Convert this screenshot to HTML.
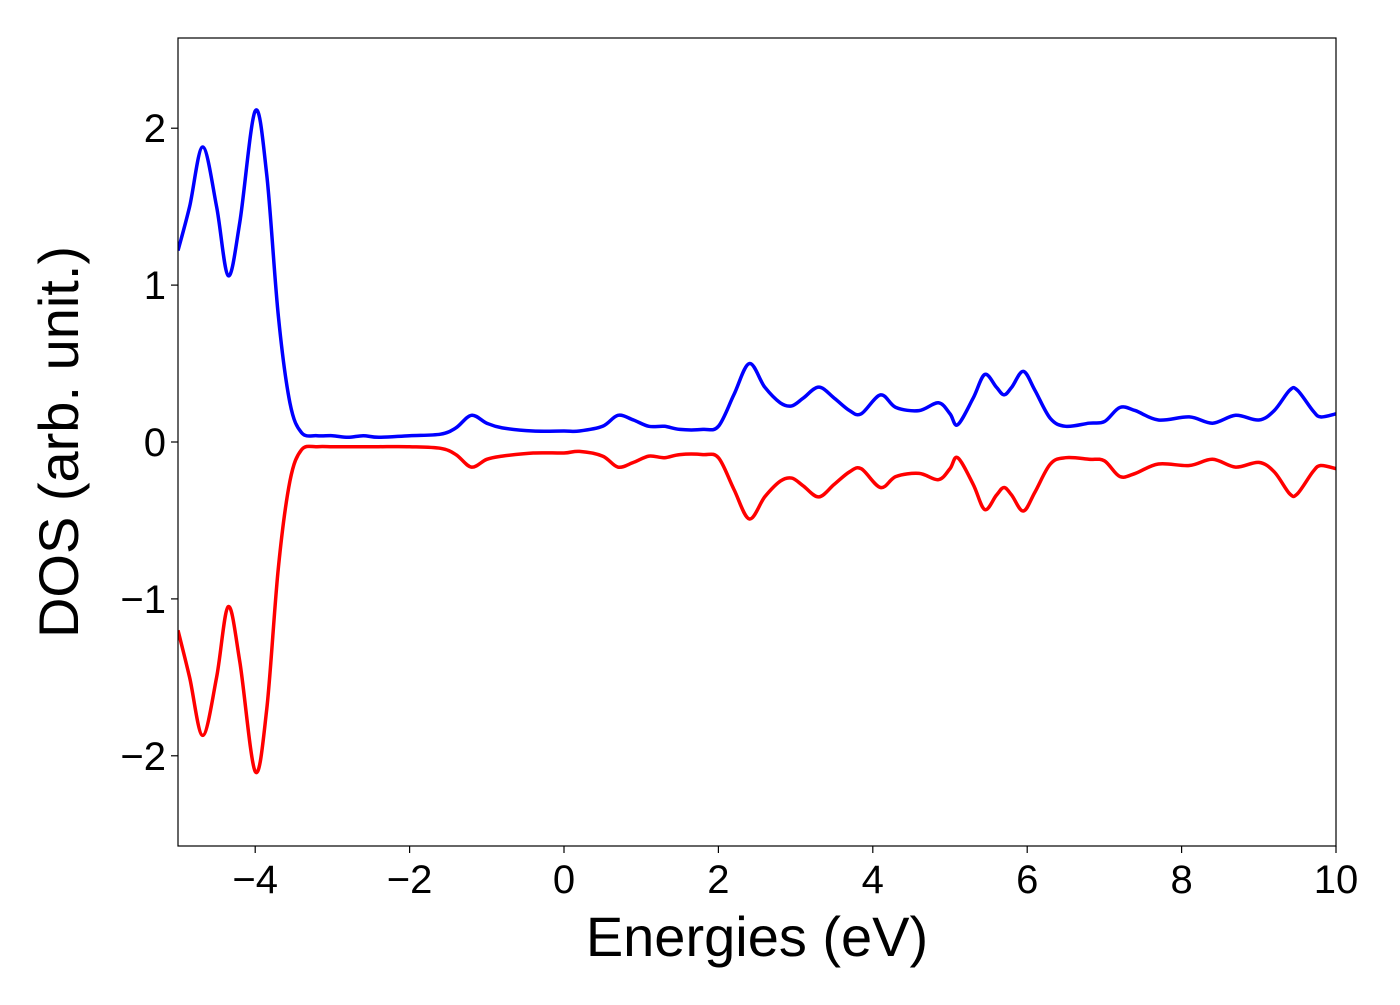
<!DOCTYPE html>
<html><head><meta charset="utf-8"><style>
html,body{margin:0;padding:0;background:#fff;}
svg text{font-family:"Liberation Sans","DejaVu Sans",sans-serif;}
</style></head><body>
<svg id="chart" width="1400" height="1000" xmlns="http://www.w3.org/2000/svg">
<rect x="0" y="0" width="1400" height="1000" fill="#fff"/>
<g id="plot"></g>
<rect x="178" y="38" width="1158" height="808" fill="none" stroke="#000" stroke-width="1.2"/>
<g id="xticks"></g>
<g id="yticks"></g>
<text x="757" y="956" font-size="56" text-anchor="middle">Energies (eV)</text>
<text transform="translate(78,442) rotate(-90)" font-size="56" text-anchor="middle">DOS (arb. unit.)</text>
</svg>
<script>
const energies = [-5,-4.85,-4.68,-4.5,-4.35,-4.2,-4.0,-3.85,-3.7,-3.55,-3.4,-3.2,-3,-2.8,-2.6,-2.4,-2,-1.6,-1.4,-1.2,-1.0,-0.8,-0.4,0,0.2,0.5,0.7,0.9,1.1,1.3,1.5,1.8,2.0,2.2,2.4,2.6,2.8,2.95,3.1,3.3,3.5,3.7,3.85,4.1,4.3,4.6,4.85,5.0,5.1,5.3,5.45,5.6,5.7,5.8,5.95,6.1,6.3,6.5,6.8,7.0,7.2,7.4,7.7,8.1,8.4,8.7,9.0,9.2,9.4,9.5,9.7,9.8,10];
const dosUp = [1.22,1.5,1.88,1.5,1.06,1.4,2.11,1.7,0.8,0.25,0.06,0.04,0.04,0.03,0.04,0.03,0.04,0.05,0.09,0.17,0.12,0.09,0.07,0.07,0.07,0.1,0.17,0.14,0.1,0.1,0.08,0.08,0.1,0.3,0.5,0.35,0.25,0.23,0.28,0.35,0.28,0.2,0.18,0.3,0.22,0.2,0.25,0.18,0.11,0.28,0.43,0.35,0.3,0.35,0.45,0.33,0.15,0.1,0.12,0.13,0.22,0.2,0.14,0.16,0.12,0.17,0.14,0.2,0.33,0.33,0.2,0.16,0.18];
const dosDown = [-1.2,-1.5,-1.87,-1.5,-1.05,-1.4,-2.1,-1.7,-0.8,-0.25,-0.05,-0.03,-0.03,-0.03,-0.03,-0.03,-0.03,-0.04,-0.08,-0.16,-0.11,-0.09,-0.07,-0.07,-0.06,-0.09,-0.16,-0.13,-0.09,-0.1,-0.08,-0.08,-0.1,-0.3,-0.49,-0.35,-0.25,-0.23,-0.28,-0.35,-0.27,-0.19,-0.17,-0.29,-0.22,-0.2,-0.24,-0.17,-0.1,-0.27,-0.43,-0.34,-0.29,-0.34,-0.44,-0.32,-0.14,-0.1,-0.11,-0.12,-0.22,-0.2,-0.14,-0.15,-0.11,-0.16,-0.13,-0.19,-0.33,-0.33,-0.19,-0.15,-0.17];
const xTicks = [-4,-2,0,2,4,6,8,10];
const yTicks = [-2,-1,0,1,2];

const X0=178,X1=1336,Y0=38,Y1=846, XMIN=-5,XMAX=10,YMIN=-2.575,YMAX=2.575;
function sx(v){return X0+(v-XMIN)/(XMAX-XMIN)*(X1-X0);}
function sy(v){return Y1-(v-YMIN)/(YMAX-YMIN)*(Y1-Y0);}
const NS="http://www.w3.org/2000/svg";
function fmt(v){return v<0?"\u2212"+Math.abs(v):String(v);}
function smoothPath(xs,ys){
  const p=xs.map((x,i)=>[sx(x),sy(ys[i])]);
  let d="M"+p[0][0].toFixed(1)+","+p[0][1].toFixed(1);
  for(let i=0;i<p.length-1;i++){
    const a=p[Math.max(0,i-1)],b=p[i],c=p[i+1],e=p[Math.min(p.length-1,i+2)];
    const c1=[b[0]+(c[0]-a[0])/6,b[1]+(c[1]-a[1])/6];
    const c2=[c[0]-(e[0]-b[0])/6,c[1]-(e[1]-b[1])/6];
    d+="C"+c1[0].toFixed(1)+","+c1[1].toFixed(1)+" "+c2[0].toFixed(1)+","+c2[1].toFixed(1)+" "+c[0].toFixed(1)+","+c[1].toFixed(1);
  }
  return d;
}
const plot=document.getElementById("plot");
const clip=document.createElementNS(NS,"clipPath");clip.setAttribute("id","clp");
const cr=document.createElementNS(NS,"rect");cr.setAttribute("x",X0);cr.setAttribute("y",Y0);cr.setAttribute("width",X1-X0);cr.setAttribute("height",Y1-Y0);
clip.appendChild(cr);plot.appendChild(clip);
[[dosUp,"#0000ff","spin-up-line"],[dosDown,"#ff0000","spin-down-line"]].forEach(([ys,col,name])=>{
  const path=document.createElementNS(NS,"path");
  
  
  path.setAttribute("d",smoothPath(energies,ys));
  path.setAttribute("fill","none");path.setAttribute("stroke",col);path.setAttribute("stroke-width","3.5");
  path.setAttribute("clip-path","url(#clp)");
  plot.appendChild(path);
});
const xg=document.getElementById("xticks");
xTicks.forEach(t=>{
  const x=sx(t);
  const l=document.createElementNS(NS,"line");
  
  
  l.setAttribute("x1",x);l.setAttribute("x2",x);l.setAttribute("y1",Y1);l.setAttribute("y2",Y1+7);l.setAttribute("stroke","#000");l.setAttribute("stroke-width","1.2");
  xg.appendChild(l);
  const tx=document.createElementNS(NS,"text");
  
  
  tx.setAttribute("x",x);tx.setAttribute("y",893);tx.setAttribute("font-size","40");tx.setAttribute("text-anchor","middle");
  tx.textContent=fmt(t);xg.appendChild(tx);
});
const yg=document.getElementById("yticks");
yTicks.forEach(t=>{
  const y=sy(t);
  const l=document.createElementNS(NS,"line");
  
  
  l.setAttribute("x1",X0-7);l.setAttribute("x2",X0);l.setAttribute("y1",y);l.setAttribute("y2",y);l.setAttribute("stroke","#000");l.setAttribute("stroke-width","1.2");
  yg.appendChild(l);
  const tx=document.createElementNS(NS,"text");
  
  
  tx.setAttribute("x",X0-12);tx.setAttribute("y",y+14);tx.setAttribute("font-size","40");tx.setAttribute("text-anchor","end");
  tx.textContent=fmt(t);yg.appendChild(tx);
});
</script>
</body></html>
